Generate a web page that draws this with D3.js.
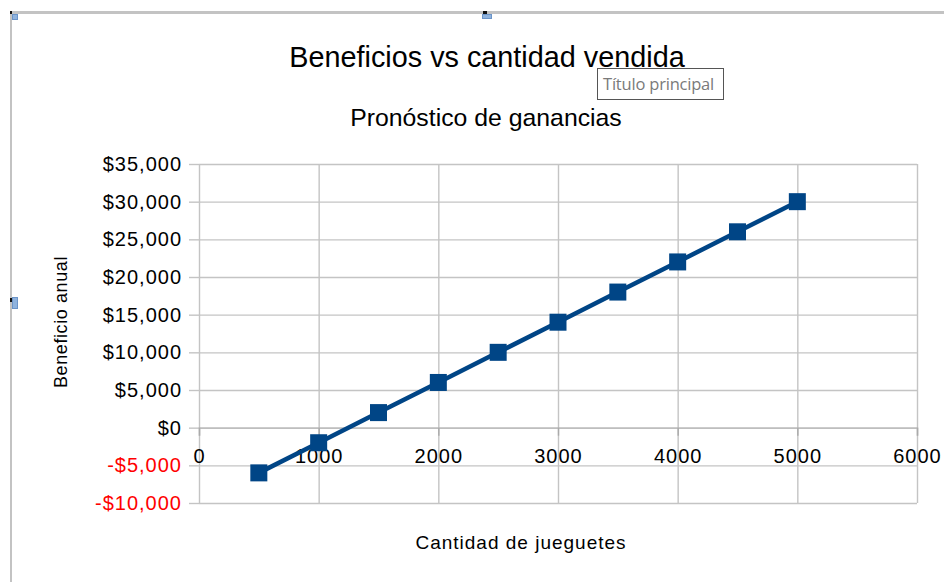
<!DOCTYPE html>
<html>
<head>
<meta charset="utf-8">
<script src="https://cdn.jsdelivr.net/npm/d3@7"></script>
<style>
  html, body { margin: 0; padding: 0; background: #fff; }
  text { font-family: "Liberation Sans", Arial, sans-serif; }
</style>
</head>
<body>
<div id="chart"></div>
<script>
// data
var cantidades = [500, 1000, 1500, 2000, 2500, 3000, 3500, 4000, 4500, 5000];
var beneficios = [-6000, -2000, 2000, 6000, 10000, 14000, 18000, 22000, 26000, 30000];
var xTicks = [0, 1000, 2000, 3000, 4000, 5000, 6000];
var yTicks = [-10000, -5000, 0, 5000, 10000, 15000, 20000, 25000, 30000, 35000];

var titulo = "Beneficios vs cantidad vendida";
var subtitulo = "Pronóstico de ganancias";
var tituloX = "Cantidad de jueguetes";
var tituloY = "Beneficio anual";
var tooltip = "Título principal";

function create_chart(div_id){
    var W = 944, H = 582;
    var margin = {top: 164, right: 27, bottom: 79, left: 199}
        , width = W - margin.left - margin.right
        , height = H - margin.top - margin.bottom;

    var svg = d3.select(div_id).append("svg")
        .attr("width", W)
        .attr("height", H);

    // selection frame of the embedded object
    svg.append("rect").attr("x", 10).attr("y", 11).attr("width", W - 10).attr("height", 3).attr("fill", "#c3c3c3");
    svg.append("rect").attr("x", 10).attr("y", 11).attr("width", 2).attr("height", H - 11).attr("fill", "#c3c3c3");
    [[10, 11, 2, 3], [483, 11, 4, 3], [10, 298, 2, 4]].forEach(function(r){
        svg.append("rect").attr("x", r[0]).attr("y", r[1]).attr("width", r[2]).attr("height", r[3]).attr("fill", "#111");
    });
    [[12, 14, 6, 6], [482, 14, 10, 5], [12, 297, 6, 12]].forEach(function(r){
        svg.append("rect").attr("x", r[0] + 0.5).attr("y", r[1] + 0.5).attr("width", r[2] - 1).attr("height", r[3] - 1)
            .attr("fill", "#8fb3de").attr("stroke", "#6b94c8");
    });

    var xScale = d3.scaleLinear().domain([0, 6000]).range([0, width]);
    var yScale = d3.scaleLinear().domain([-10000, 35000]).range([height, 0]);

    var fmt = function(v){ return (v < 0 ? "-" : "") + "$" + d3.format(",")(Math.abs(v)); };

    var g = svg.append("g")
        .attr("transform", "translate(" + margin.left + "," + margin.top + ")");

    // grid
    g.append("g")
        .attr("class", "grid")
        .call(d3.axisLeft(yScale).tickValues(yTicks).tickSize(-width).tickFormat(""))
        .call(function(s){ s.select(".domain").remove(); });
    g.append("g")
        .attr("class", "grid")
        .attr("transform", "translate(0," + height + ")")
        .call(d3.axisBottom(xScale).tickValues(xTicks).tickSize(-height).tickFormat(""))
        .call(function(s){ s.select(".domain").remove(); });
    g.selectAll(".grid line").attr("stroke", "#c4c4c4").attr("stroke-width", 1.4);

    // y axis
    var yAxis = g.append("g")
        .call(d3.axisLeft(yScale).tickValues(yTicks).tickSize(10).tickPadding(7).tickFormat(fmt));
    yAxis.select(".domain").remove();
    yAxis.selectAll("line").attr("stroke", "#c4c4c4").attr("stroke-width", 1.4);
    yAxis.selectAll("text")
        .attr("font-size", 20)
        .attr("letter-spacing", 1)
        .attr("fill", function(d){ return d < 0 ? "#ff0000" : "#000"; });

    // x axis crosses at y = 0
    var xAxis = g.append("g")
        .attr("transform", "translate(0," + yScale(0) + ")")
        .call(d3.axisBottom(xScale).tickValues(xTicks).tickSize(8).tickPadding(13).tickFormat(d3.format("d")));
    xAxis.select(".domain").attr("stroke", "#b8b8b8").attr("stroke-width", 1.4);
    xAxis.selectAll("line").attr("stroke", "#aaaaaa").attr("stroke-width", 1.4);
    xAxis.selectAll("text")
        .attr("font-size", 20)
        .attr("letter-spacing", 1)
        .attr("fill", "#000");

    // series
    var datos = cantidades.map(function(c, i){ return {x: c, y: beneficios[i]}; });
    var line = d3.line()
        .x(function(d){ return xScale(d.x); })
        .y(function(d){ return yScale(d.y); });

    g.append("path")
        .datum(datos)
        .attr("fill", "none")
        .attr("stroke", "#004586")
        .attr("stroke-width", 4.5)
        .attr("d", line);

    var s = 17;
    g.selectAll(".marker")
        .data(datos)
        .enter().append("rect")
        .attr("class", "marker")
        .attr("x", function(d){ return xScale(d.x) - s / 2; })
        .attr("y", function(d){ return yScale(d.y) - s / 2; })
        .attr("width", s)
        .attr("height", s)
        .attr("fill", "#004586");

    // titles
    svg.append("text")
        .attr("x", 487).attr("y", 67)
        .attr("text-anchor", "middle")
        .attr("font-size", 28.8)
        .attr("fill", "#000")
        .text(titulo);

    svg.append("text")
        .attr("x", 486).attr("y", 126)
        .attr("text-anchor", "middle")
        .attr("font-size", 24.8)
        .attr("fill", "#000")
        .text(subtitulo);

    svg.append("text")
        .attr("x", 521).attr("y", 549)
        .attr("text-anchor", "middle")
        .attr("font-size", 19)
        .attr("letter-spacing", 1)
        .attr("fill", "#000")
        .text(tituloX);

    svg.append("text")
        .attr("transform", "translate(67,322) rotate(-90)")
        .attr("text-anchor", "middle")
        .attr("font-size", 18)
        .attr("letter-spacing", 0.6)
        .attr("fill", "#000")
        .text(tituloY);

    // hover tooltip box
    svg.append("rect")
        .attr("x", 597.5).attr("y", 68.5)
        .attr("width", 126).attr("height", 31)
        .attr("fill", "#fff")
        .attr("stroke", "#555");
    svg.append("text")
        .attr("x", 603).attr("y", 90)
        .attr("font-size", 16.5)
        .attr("letter-spacing", -0.2)
        .style("font-family", "'Open Sans', sans-serif")
        .attr("fill", "#7a7a7a")
        .text(tooltip);
}

create_chart("#chart");
</script>
</body>
</html>
